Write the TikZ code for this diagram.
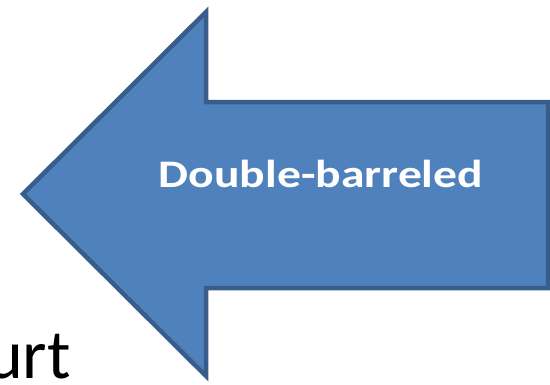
\documentclass[tikz,border=0pt]{standalone}
\usepackage{fontspec}
\setmainfont{Carlito}
\definecolor{arrowfill}{HTML}{4F81BD}
\definecolor{arrowline}{HTML}{385D8A}
\tikzset{
  bigarrow/.style={fill=arrowfill, draw=arrowline, line width=4.5pt, miter limit=10},
  arrowlabel/.style={text=white, font=\bfseries\fontsize{39}{39}\selectfont, inner sep=0pt, xscale=1.22},
  bodytext/.style={text=black, font=\fontsize{70}{70}\selectfont, inner sep=0pt}
}
\begin{document}
\begin{tikzpicture}[x=1pt, y=-1pt]
\useasboundingbox (0,0) rectangle (550,384);
\clip (0,0) rectangle (550,384);
\node[bodytext, anchor=base east] (urt) at (71,378) {urt};
\draw[bigarrow] (23,194) coordinate (tip) -- (206,12) -- (206,102) -- (548,102) -- (548,288) -- (206,288) -- (206,376) -- cycle;
\node[arrowlabel, anchor=base] (lbl) at (321,187) {Double-barreled};
\end{tikzpicture}
\end{document}
